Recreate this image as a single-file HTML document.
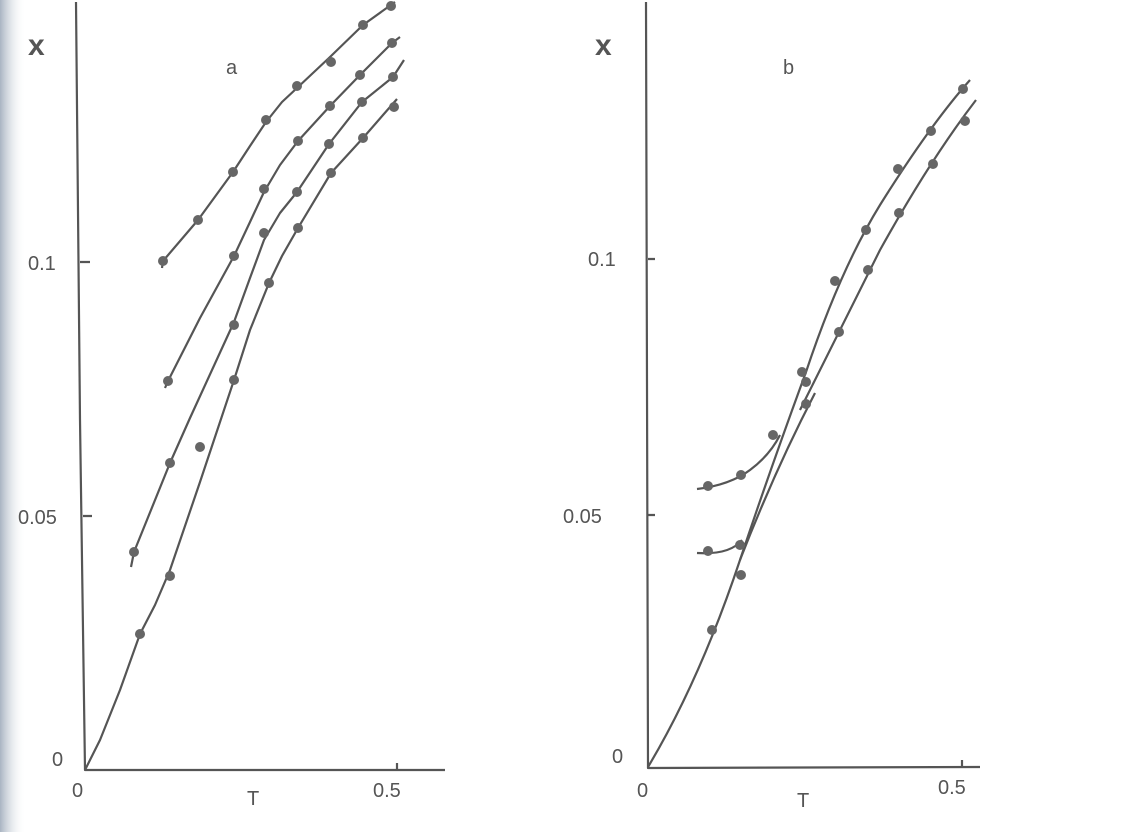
<!DOCTYPE html>
<html><head><meta charset="utf-8"><style>
html,body{margin:0;padding:0;background:#fff}
svg{display:block}
text{font-family:"Liberation Sans",sans-serif;fill:#555}
</style></head><body>
<svg width="1132" height="832" viewBox="0 0 1132 832">
<defs><linearGradient id="g" x1="0" x2="1"><stop offset="0" stop-color="#a9b4c2"/><stop offset="1" stop-color="#fff" stop-opacity="0"/></linearGradient></defs>
<rect width="1132" height="832" fill="#fff"/>
<rect x="0" y="0" width="26" height="832" fill="url(#g)"/>
<g stroke="#555" fill="none" stroke-width="2.2" stroke-linejoin="round">
<path d="M76 2 L80 420 L85 770 L445 770"/>
<path d="M80 262 L90 262 M83 516 L92 516 M397 770 L397 763"/>
<polyline points="162,268 163,261 198,220 233,172 250,146 266,122 282,102 297,88 330,57 363,25 395,2"/>
<polyline points="165,388 168,381 200,318 234,256 250,222 264,192 280,165 298,141 330,106 360,75 392,43 400,37"/>
<polyline points="131,567 134,552 170,463 190,418 234,322 250,278 264,240 280,213 297,192 329,144 362,102 393,77 404,60"/>
<polyline points="85,770 100,740 120,690 140,634 155,605 170,570 200,482 234,380 250,330 269,283 282,256 298,228 331,173 363,138 397,99"/>
<path d="M646 2 L648 768 L980 767"/>
<path d="M648 259 L655 259 M648 515 L655 515 M962 767 L962 760"/>
<path d="M648 767 Q700 680 740 560 Q770 470 806 372 Q840 270 880 205 Q930 125 970 80"/>
<path d="M740 560 Q775 470 815 393"/>
<path d="M800 410 Q840 330 880 250 Q930 160 976 100"/>
<path d="M697 489 Q730 485 750 470 Q770 455 780 435"/>
<path d="M697 553 Q730 555 742 540"/>
</g>
<g fill="#666">
<circle cx="163" cy="261" r="5"/><circle cx="198" cy="220" r="5"/><circle cx="233" cy="172" r="5"/><circle cx="266" cy="120" r="5"/><circle cx="297" cy="86" r="5"/><circle cx="331" cy="62" r="5"/><circle cx="363" cy="25" r="5"/><circle cx="391" cy="6" r="5"/>
<circle cx="168" cy="381" r="5"/><circle cx="234" cy="256" r="5"/><circle cx="264" cy="189" r="5"/><circle cx="298" cy="141" r="5"/><circle cx="330" cy="106" r="5"/><circle cx="360" cy="75" r="5"/><circle cx="392" cy="43" r="5"/>
<circle cx="134" cy="552" r="5"/><circle cx="170" cy="463" r="5"/><circle cx="234" cy="325" r="5"/><circle cx="264" cy="233" r="5"/><circle cx="297" cy="192" r="5"/><circle cx="329" cy="144" r="5"/><circle cx="362" cy="102" r="5"/><circle cx="393" cy="77" r="5"/>
<circle cx="140" cy="634" r="5"/><circle cx="170" cy="576" r="5"/><circle cx="200" cy="447" r="5"/><circle cx="234" cy="380" r="5"/><circle cx="269" cy="283" r="5"/><circle cx="298" cy="228" r="5"/><circle cx="331" cy="173" r="5"/><circle cx="363" cy="138" r="5"/><circle cx="394" cy="107" r="5"/>
<circle cx="712" cy="630" r="5"/><circle cx="741" cy="575" r="5"/><circle cx="773" cy="435" r="5"/><circle cx="802" cy="372" r="5"/><circle cx="835" cy="281" r="5"/><circle cx="866" cy="230" r="5"/><circle cx="898" cy="169" r="5"/><circle cx="931" cy="131" r="5"/><circle cx="963" cy="89" r="5"/>
<circle cx="806" cy="382" r="5"/><circle cx="806" cy="404" r="5"/><circle cx="839" cy="332" r="5"/><circle cx="868" cy="270" r="5"/><circle cx="899" cy="213" r="5"/><circle cx="933" cy="164" r="5"/><circle cx="965" cy="121" r="5"/>
<circle cx="708" cy="486" r="5"/><circle cx="741" cy="475" r="5"/><circle cx="708" cy="551" r="5"/><circle cx="740" cy="545" r="5"/>
</g>
<g font-size="20">
<text x="28" y="55" font-size="30" font-weight="bold">x</text>
<text x="226" y="74">a</text>
<text x="28" y="270">0.1</text>
<text x="18" y="524">0.05</text>
<text x="52" y="766">0</text>
<text x="72" y="797">0</text>
<text x="247" y="805">T</text>
<text x="373" y="797">0.5</text>
<text x="595" y="55" font-size="30" font-weight="bold">x</text>
<text x="783" y="74">b</text>
<text x="588" y="266">0.1</text>
<text x="563" y="523">0.05</text>
<text x="612" y="763">0</text>
<text x="637" y="797">0</text>
<text x="797" y="807">T</text>
<text x="938" y="794">0.5</text>
</g>
</svg>
</body></html>
